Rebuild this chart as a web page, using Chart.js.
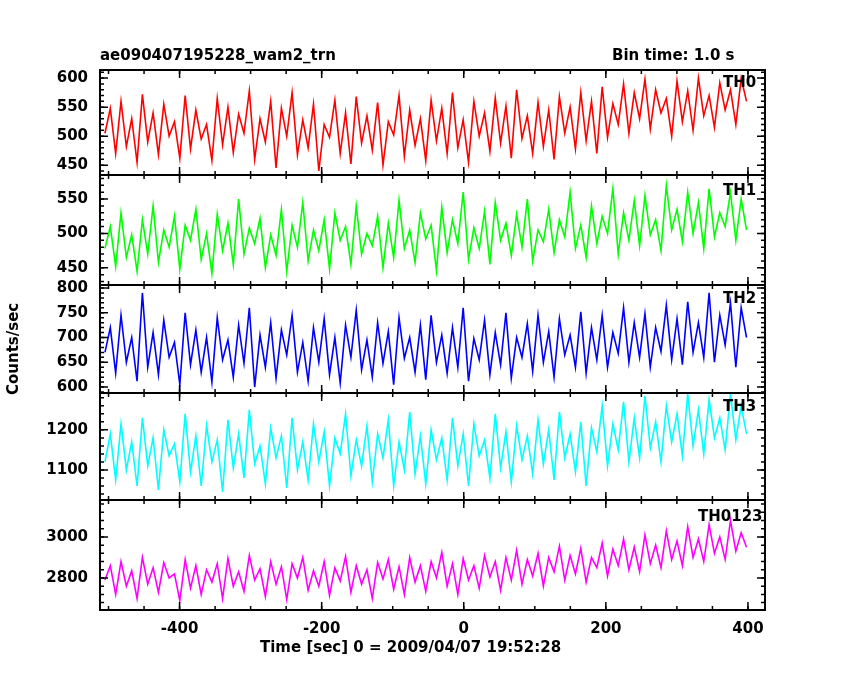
<!DOCTYPE html>
<html><head><meta charset="utf-8">
<script src="https://cdn.jsdelivr.net/npm/chart.js@4"></script>
<style>
body{margin:0;background:#fff;}
#wrap{position:relative;width:850px;height:680px;}
.t{position:absolute;font-family:"DejaVu Sans";font-weight:bold;font-size:15px;color:#000;white-space:nowrap;}
</style></head><body>
<div id="wrap"><canvas id="c" width="850" height="680"></canvas>
<div class="t" style="left:100px;top:46px">ae090407195228_wam2_trn</div>
<div class="t" style="left:612px;top:46px">Bin time: 1.0 s</div>
<div class="t" style="left:260px;top:638px">Time [sec] 0 = 2009/04/07 19:52:28</div>
<div class="t" style="left:4px;top:395px;transform:rotate(-90deg);transform-origin:left top">Counts/sec</div>
<div class="t" style="left:723px;top:73px">TH0</div>
<div class="t" style="left:723px;top:181px">TH1</div>
<div class="t" style="left:723px;top:289px">TH2</div>
<div class="t" style="left:723px;top:397px">TH3</div>
<div class="t" style="left:698px;top:507px">TH0123</div>
</div>
<script>
const seriesNames=["TH0","TH1","TH2","TH3","TH0123"];
const colors=["#ff0000","#00ff00","#0000ff","#00ffff","#ff00ff"];
const th0=[505,548,470,560,482,530,455,572,490,540,468,555,500,525,462,570,478,545,495,520,458,565,485,550,472,538,505,578,460,530,490,560,445,548,500,575,468,528,480,555,440,520,498,562,470,540,452,568,488,535,476,558,450,525,502,570,465,545,484,530,458,562,492,548,470,575,480,528,455,560,500,540,474,566,488,552,462,580,496,535,470,558,482,545,460,568,505,550,478,575,492,560,470,585,498,556,520,590,505,575,530,598,512,580,540,565,500,595,525,578,510,600,535,570,515,592,545,580,520,600,560];
const th1=[478,510,452,530,465,498,445,520,470,540,458,505,480,525,448,512,490,535,462,500,442,528,475,515,455,550,470,508,485,522,450,498,468,535,445,512,480,545,460,505,475,520,448,530,490,510,455,540,470,500,482,525,450,515,465,548,478,505,458,530,492,512,446,538,472,520,485,560,462,508,478,532,455,545,490,515,468,528,480,550,460,505,488,535,472,520,495,560,478,512,465,540,485,525,500,565,470,530,490,548,482,555,498,520,475,570,505,535,488,560,500,545,478,565,495,530,510,560,490,550,505];
const th2=[670,720,628,745,650,700,612,790,640,710,625,735,660,690,605,750,645,715,630,700,610,740,655,695,620,725,648,760,600,705,640,730,618,715,665,745,630,690,612,720,650,738,625,700,608,725,660,755,635,695,620,730,648,712,605,740,658,700,630,725,615,745,650,705,628,720,640,760,612,698,655,735,625,710,645,750,618,700,660,728,632,745,650,712,620,738,665,705,640,752,628,720,655,745,640,710,668,760,650,730,660,748,640,720,672,765,655,738,645,772,670,730,660,790,650,745,685,770,640,760,700];
const th3=[1120,1190,1075,1215,1100,1170,1060,1230,1110,1180,1050,1200,1135,1165,1070,1240,1095,1185,1060,1210,1120,1175,1045,1225,1105,1190,1080,1250,1115,1160,1065,1205,1130,1185,1055,1230,1100,1170,1075,1215,1120,1195,1060,1180,1140,1240,1085,1175,1110,1210,1070,1190,1130,1225,1060,1170,1100,1245,1090,1185,1065,1200,1125,1180,1075,1230,1110,1190,1060,1215,1135,1175,1080,1240,1105,1195,1070,1210,1125,1185,1090,1225,1115,1200,1075,1245,1130,1190,1095,1220,1060,1205,1145,1260,1110,1215,1150,1270,1120,1230,1130,1285,1155,1220,1120,1260,1170,1240,1135,1290,1160,1250,1140,1275,1180,1230,1150,1290,1175,1260,1190];
const th0123=[2790,2860,2720,2880,2760,2835,2700,2900,2770,2850,2730,2875,2800,2820,2690,2890,2750,2860,2720,2840,2780,2870,2700,2895,2760,2830,2735,2910,2790,2845,2710,2880,2770,2855,2695,2870,2800,2900,2740,2835,2760,2880,2715,2850,2785,2905,2730,2860,2770,2840,2700,2875,2795,2890,2745,2855,2720,2900,2780,2860,2735,2880,2800,2925,2760,2870,2720,2895,2790,2860,2750,2910,2805,2880,2740,2900,2790,2935,2770,2890,2810,2920,2760,2900,2830,2955,2790,2910,2820,2945,2780,2900,2850,2970,2810,2940,2860,2990,2840,2950,2830,3010,2870,2960,2850,3030,2890,2980,2860,3050,2900,2990,2880,3060,2920,3000,2890,3080,2930,3020,2950];
const values=[th0,th1,th2,th3,th0123];
const tStart=-505, tEnd=398;
const xTicks=[-400,-200,0,200,400];
const yMin=[433,425,588,1025,2644], yMax=[614,585,806,1292,3180];
const ySteps=[50,50,50,100,200];
const weights=[105,110,108,107,110];

const font={family:"DejaVu Sans",size:15,weight:"bold"};
const scales={
  x:{type:'linear',min:-512,max:424,position:'bottom',
     afterBuildTicks:s=>{s.ticks=xTicks.map(v=>({value:v}));},
     afterFit:s=>{s.height=40;},
     ticks:{color:'#000',font,padding:2,maxRotation:0,autoSkip:false,callback:v=>String(v)},
     grid:{display:false},border:{display:false}}
};
for(let k=values.length-1;k>=0;k--){
  scales['y'+k]={type:'linear',position:'left',stack:'s',stackWeight:weights[k],offset:false,
    min:yMin[k],max:yMax[k],
    afterBuildTicks:s=>{const st=ySteps[k];const out=[];for(let v=Math.ceil(yMin[k]/st)*st;v<=yMax[k];v+=st)out.push({value:v});s.ticks=out;},
    afterFit:s=>{s.width=60;},
    ticks:{color:'#000',font,padding:4,autoSkip:false,callback:v=>String(v)},
    grid:{display:false},border:{display:false}};
}
const datasets=values.map((arr,k)=>{
  const n=arr.length;
  return {label:seriesNames[k],yAxisID:'y'+k,xAxisID:'x',
    data:arr.map((v,i)=>({x:tStart+(tEnd-tStart)*i/(n-1),y:v})),
    borderColor:colors[k],borderWidth:1.6,pointRadius:0,tension:0,fill:false};
});
const frame={id:'frame',afterDraw(c){
  const g=c.ctx,a=c.chartArea;g.save();g.strokeStyle='#000';g.lineWidth=2;
  g.strokeRect(a.left,a.top,a.right-a.left,a.bottom-a.top);
  values.forEach((_,k)=>{const s=c.scales['y'+k];
    g.lineWidth=2;
    g.beginPath();g.moveTo(a.left,s.bottom);g.lineTo(a.right,s.bottom);g.stroke();
    g.lineWidth=1.5;
    s.ticks.forEach(t=>{const y=s.getPixelForValue(t.value);g.beginPath();g.moveTo(a.left,y);g.lineTo(a.left+8,y);g.moveTo(a.right,y);g.lineTo(a.right-8,y);g.stroke();});
    const st=ySteps[k]/5;for(let v=Math.ceil(yMin[k]/st)*st;v<=yMax[k];v+=st){const y=s.getPixelForValue(v);g.beginPath();g.moveTo(a.left,y);g.lineTo(a.left+4,y);g.moveTo(a.right,y);g.lineTo(a.right-4,y);g.stroke();}
    const xs=c.scales.x;
    xTicks.forEach(v=>{const x=xs.getPixelForValue(v);g.beginPath();g.moveTo(x,s.top);g.lineTo(x,s.top+8);g.moveTo(x,s.bottom);g.lineTo(x,s.bottom-8);g.stroke();});
    for(let v=-500;v<=420;v+=50){const x=xs.getPixelForValue(v);g.beginPath();g.moveTo(x,s.top);g.lineTo(x,s.top+4);g.moveTo(x,s.bottom);g.lineTo(x,s.bottom-4);g.stroke();}
  });
  g.restore();}};
new Chart(document.getElementById('c'),{type:'line',data:{datasets},
  options:{responsive:false,animation:false,
    layout:{padding:{left:40,right:85,top:70,bottom:30}},
    plugins:{legend:{display:false},tooltip:{enabled:false}},scales},
  plugins:[frame]});
</script></body></html>
